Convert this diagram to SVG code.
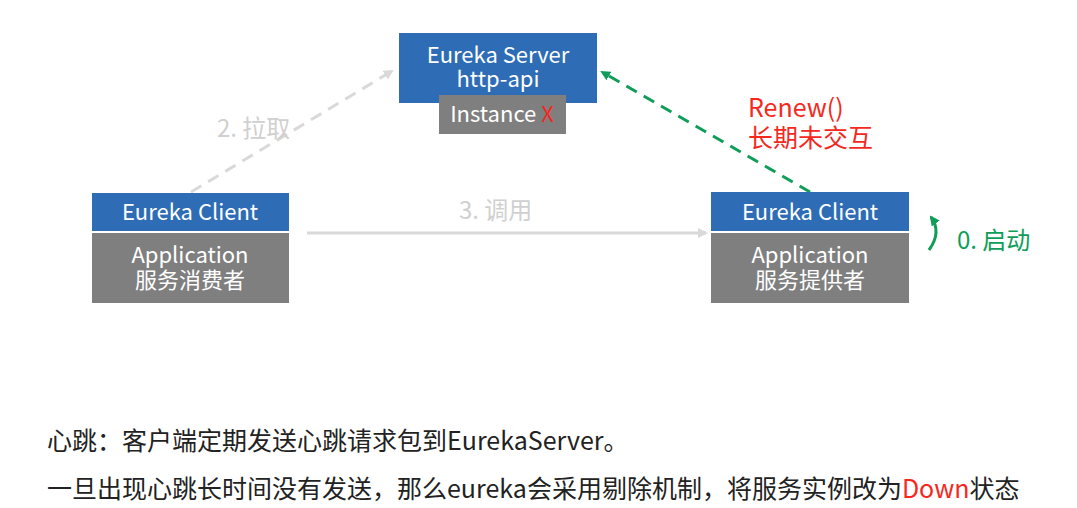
<svg xmlns="http://www.w3.org/2000/svg" width="1077" height="508" viewBox="0 0 1077 508">
<style>
text{font-family:"Noto Sans CJK SC","Noto Sans",sans-serif;}
.blue{fill:#2E6DB5;}
.gray{fill:#7F7F7F;}
.wt{fill:#FFFFFF;font-size:22px;text-anchor:middle;}
.lbl{fill:#D0D0D0;font-size:24px;}
.red{fill:#F5281E;}
.grn{fill:#0F9D58;}
.body{fill:#222222;font-size:25px;}
</style>
<defs>
<marker id="ahG" markerWidth="10" markerHeight="10" refX="8" refY="5" orient="auto" markerUnits="userSpaceOnUse" viewBox="0 0 10 10"><path d="M0,0 L10,5 L0,10 z" fill="#D9D9D9"/></marker>
<marker id="ahGr" markerWidth="10" markerHeight="10" refX="8" refY="5" orient="auto" markerUnits="userSpaceOnUse" viewBox="0 0 10 10"><path d="M0,0 L10,5 L0,10 z" fill="#0F9D58"/></marker>
</defs>
<g id="connectors">
<line x1="191" y1="192" x2="392" y2="71" stroke="#D9D9D9" stroke-width="3" stroke-dasharray="12,8" marker-end="url(#ahG)"/>
<line x1="307" y1="233" x2="706" y2="233" stroke="#D9D9D9" stroke-width="3" marker-end="url(#ahG)"/>
<line x1="810" y1="192" x2="602" y2="72" stroke="#0F9D58" stroke-width="3" stroke-dasharray="12,8" marker-end="url(#ahGr)"/>
<path d="M929,250 Q942,232 931,217" fill="none" stroke="#0F9D58" stroke-width="3" marker-end="url(#ahGr)"/>
<text class="lbl" x="217" y="137">2. 拉取</text>
<text class="lbl" x="459" y="219">3. 调用</text>
<text class="red" x="748" y="117" font-size="25px">Renew()</text>
<text class="red" x="748" y="147" font-size="25px">长期未交互</text>
<text class="grn" x="957" y="249" font-size="24px">0. 启动</text>
</g>
<g id="server">
<rect class="blue" x="399" y="33" width="198" height="70"/>
<text class="wt" x="498" y="63">Eureka Server</text>
<text class="wt" x="498" y="87">http-api</text>
</g>
<g id="instance">
<rect class="gray" x="439" y="95" width="127" height="39"/>
<text x="502" y="122" font-size="22px" text-anchor="middle"><tspan fill="#FFFFFF">Instance </tspan><tspan fill="#F5281E">X</tspan></text>
</g>
<g id="consumer">
<rect class="blue" x="92" y="193" width="197" height="38"/>
<text class="wt" x="190" y="220">Eureka Client</text>
<rect class="gray" x="92" y="233" width="197" height="70"/>
<text class="wt" x="190" y="263">Application</text>
<text class="wt" x="190" y="288">服务消费者</text>
</g>
<g id="provider">
<rect class="blue" x="711" y="192" width="198" height="39"/>
<text class="wt" x="810" y="220">Eureka Client</text>
<rect class="gray" x="711" y="233" width="198" height="70"/>
<text class="wt" x="810" y="263">Application</text>
<text class="wt" x="810" y="288">服务提供者</text>
</g>
<g id="notes">
<text class="body" x="47" y="450">心跳：客户端定期发送心跳请求包到EurekaServer。</text>
<text class="body" x="47" y="498">一旦出现心跳长时间没有发送，那么eureka会采用剔除机制，将服务实例改为<tspan class="red">Down</tspan>状态</text>
</g>
</svg>
